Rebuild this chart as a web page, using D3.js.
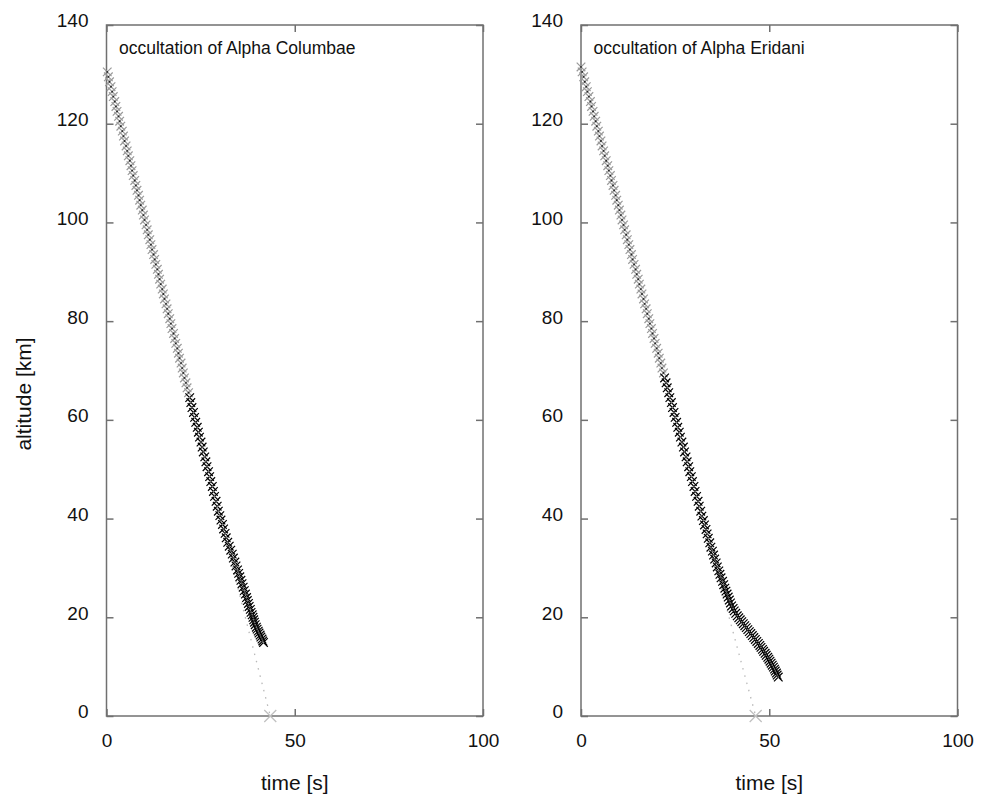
<!DOCTYPE html>
<html lang="en">
<head>
<meta charset="UTF-8" />
<title>Occultation altitude vs time</title>
<script src="https://d3js.org/d3.v7.min.js"></script>
<style>
    body { margin: 0; background: white; font-family: "Liberation Sans", Arial, sans-serif; }
    .frame { fill: none; stroke: #707070; stroke-width: 1.5px; }
    .axis path { display: none; }
    .axis line { stroke: #707070; stroke-width: 1.5px; }
    .axis text { font-family: "Liberation Sans", Arial, sans-serif; font-size: 19px; fill: #111; }
</style>
</head>
<body>
<div id="chart"></div>
<script>
// ticks
const xTicks = [0, 50, 100];
const yTicks = [0, 20, 40, 60, 80, 100, 120, 140];

// Alpha Columbae: points above the cut (gray) and below (black)
const columbaeGrayAlt = [130.5,129.5,128.5,127.5,126.5,125.5,124.5,123.5,122.5,121.5,120.5,119.5,118.5,117.5,116.5,115.5,114.5,113.5,112.5,111.5,110.5,109.5,108.5,107.5,106.5,105.5,104.5,103.5,102.5,101.5,100.5,99.5,98.5,97.5,96.5,95.5,94.5,93.5,92.5,91.5,90.5,89.5,88.5,87.5,86.5,85.5,84.5,83.5,82.5,81.5,80.5,79.5,78.5,77.5,76.5,75.5,74.5,73.5,72.5,71.5,70.5,69.5,68.5,67.5,66.5,65.5];
const columbaeGrayTime = [0.2,0.5,0.8,1.2,1.5,1.8,2.2,2.5,2.8,3.2,3.5,3.8,4.2,4.5,4.8,5.2,5.5,5.8,6.2,6.5,6.8,7.1,7.5,7.8,8.1,8.5,8.8,9.1,9.5,9.8,10.1,10.5,10.8,11.1,11.5,11.8,12.1,12.5,12.8,13.1,13.5,13.8,14.1,14.4,14.8,15.1,15.4,15.8,16.1,16.4,16.8,17.1,17.4,17.8,18.1,18.4,18.8,19.1,19.4,19.8,20.1,20.4,20.7,21.1,21.4,21.8];
const columbaeAlt = [64.5,63.5,62.5,61.5,60.5,59.5,58.5,57.5,56.5,55.5,54.5,53.5,52.5,51.5,50.5,49.5,48.5,47.5,46.5,45.5,44.5,43.5,42.5,41.5,40.6,39.7,38.8,37.9,37.0,36.1,35.2,34.4,33.6,32.8,32.0,31.2,30.4,29.6,28.9,28.2,27.5,26.8,26.1,25.4,24.7,24.0,23.4,22.8,22.2,21.6,21.0,20.5,20.0,19.5,19.0,18.5,18.0,17.6,17.2,16.8,16.4,16.0,15.6,15.2,14.9];
const columbaeTime = [22.1,22.4,22.7,23.1,23.4,23.7,24.1,24.4,24.7,25.1,25.4,25.7,26.1,26.4,26.7,27.1,27.4,27.7,28.1,28.4,28.7,29.1,29.4,29.7,30.1,30.4,30.8,31.1,31.5,31.8,32.2,32.6,33.0,33.4,33.7,34.1,34.4,34.8,35.1,35.4,35.7,36.0,36.3,36.6,36.9,37.2,37.4,37.7,37.9,38.2,38.4,38.7,38.9,39.1,39.3,39.5,39.8,40.0,40.3,40.5,40.8,41.0,41.3,41.5,41.7];

// Alpha Eridani
const eridaniGrayAlt = [131.5,130.5,129.5,128.5,127.5,126.5,125.5,124.5,123.5,122.5,121.5,120.5,119.5,118.5,117.5,116.5,115.5,114.5,113.5,112.5,111.5,110.5,109.5,108.5,107.5,106.5,105.5,104.5,103.5,102.5,101.5,100.5,99.5,98.5,97.5,96.5,95.5,94.5,93.5,92.5,91.5,90.5,89.5,88.5,87.5,86.5,85.5,84.5,83.5,82.5,81.5,80.5,79.5,78.5,77.5,76.5,75.5,74.5,73.5,72.5,71.5,70.5,69.5];
const eridaniGrayTime = [0.0,0.3,0.7,1.0,1.4,1.7,2.1,2.5,2.8,3.2,3.5,3.9,4.2,4.6,4.9,5.3,5.6,6.0,6.3,6.7,7.1,7.4,7.8,8.1,8.5,8.8,9.2,9.5,9.9,10.2,10.6,10.9,11.3,11.6,12.0,12.3,12.7,13.0,13.4,13.7,14.1,14.5,14.8,15.2,15.5,15.9,16.2,16.6,16.9,17.3,17.6,18.0,18.3,18.7,19.0,19.4,19.7,20.1,20.5,20.8,21.2,21.5,21.9];
const eridaniAlt = [68.5,67.5,66.5,65.5,64.5,63.5,62.5,61.5,60.5,59.5,58.5,57.5,56.5,55.5,54.5,53.5,52.5,51.5,50.5,49.5,48.5,47.5,46.5,45.5,44.5,43.5,42.5,41.5,40.5,39.6,38.7,37.8,36.9,36.0,35.1,34.2,33.4,32.6,31.8,31.0,30.2,29.4,28.7,28.0,27.3,26.6,25.9,25.3,24.7,24.1,23.5,22.9,22.3,21.8,21.3,20.8,20.3,19.9,19.5,19.1,18.7,18.3,17.9,17.5,17.1,16.7,16.3,15.9,15.5,15.1,14.7,14.3,13.9,13.5,13.1,12.7,12.3,11.9,11.5,11.1,10.7,10.3,9.9,9.5,9.1,8.7,8.3,7.9];
const eridaniTime = [22.2,22.6,22.9,23.3,23.6,24.0,24.3,24.7,25.0,25.4,25.7,26.1,26.4,26.8,27.2,27.5,27.9,28.2,28.6,28.9,29.3,29.6,30.0,30.3,30.7,31.1,31.4,31.8,32.1,32.5,32.8,33.2,33.5,33.8,34.2,34.5,34.9,35.2,35.5,35.9,36.2,36.6,36.9,37.2,37.6,37.9,38.2,38.5,38.8,39.1,39.4,39.7,40.0,40.4,40.7,41.1,41.5,41.9,42.3,42.7,43.1,43.5,43.9,44.3,44.7,45.1,45.5,45.9,46.3,46.7,47.1,47.5,47.8,48.2,48.5,48.9,49.2,49.6,49.9,50.2,50.5,50.8,51.1,51.4,51.6,51.9,52.1,52.4];

// time where the straight (unrefracted) track reaches 0 km
const groundTime = [43.5, 46.4];

const W = 982, H = 795;
const plotW = 376.5, plotH = 691;

const svg = d3.select("#chart").append("svg")
    .attr("width", W)
    .attr("height", H);

const zip = (t, a) => t.map((d, i) => ({ t: d, a: a[i] }));

const panels = [
    { left: 106.5, title: "occultation of Alpha Columbae",
      gray: zip(columbaeGrayTime, columbaeGrayAlt), black: zip(columbaeTime, columbaeAlt), ground: groundTime[0], ylabel: true },
    { left: 581, title: "occultation of Alpha Eridani",
      gray: zip(eridaniGrayTime, eridaniGrayAlt), black: zip(eridaniTime, eridaniAlt), ground: groundTime[1], ylabel: false }
];

const cross = s => `M${-s},${-s}L${s},${s}M${-s},${s}L${s},${-s}`;

panels.forEach(p => {
    const g = svg.append("g").attr("transform", `translate(${p.left},25)`);

    const x = d3.scaleLinear().domain([0, 100]).range([0, plotW]);
    const y = d3.scaleLinear().domain([0, 140]).range([plotH, 0]);

    // axes with inward ticks on all four sides
    const bottom = g.append("g").attr("class", "axis")
        .attr("transform", `translate(0,${plotH})`)
        .call(d3.axisBottom(x).tickValues(xTicks).tickSize(-7).tickPadding(0));
    bottom.selectAll("text").attr("y", 30.5).attr("dy", 0);

    g.append("g").attr("class", "axis")
        .call(d3.axisTop(x).tickValues(xTicks).tickSize(-7).tickFormat(""));

    const leftAx = g.append("g").attr("class", "axis")
        .call(d3.axisLeft(y).tickValues(yTicks).tickSize(-7).tickPadding(18));
    leftAx.selectAll("text").attr("dy", "0.1em");

    g.append("g").attr("class", "axis")
        .attr("transform", `translate(${plotW},0)`)
        .call(d3.axisRight(y).tickValues(yTicks).tickSize(-7).tickFormat(""));

    g.append("rect").attr("class", "frame")
        .attr("width", plotW).attr("height", plotH);

    // straight track, dotted
    const start = p.gray[0];
    g.append("line")
        .attr("x1", x(start.t)).attr("y1", y(start.a))
        .attr("x2", x(p.ground)).attr("y2", y(0))
        .attr("stroke", "#b8b8b8")
        .attr("stroke-width", 1.3)
        .attr("stroke-dasharray", "1.5,6");

    g.append("path")
        .attr("d", cross(6))
        .attr("transform", `translate(${x(p.ground)},${y(0)})`)
        .attr("stroke", "#c0c0c0")
        .attr("stroke-width", 1.3)
        .attr("fill", "none");

    // gray points
    g.selectAll(".gp").data(p.gray).enter().append("path")
        .attr("class", "gp")
        .attr("d", cross(4.3))
        .attr("transform", d => `translate(${x(d.t)},${y(d.a)})`)
        .attr("stroke", "#9a9a9a")
        .attr("stroke-width", 1.2)
        .attr("fill", "none");

    g.selectAll(".gd").data(p.gray).enter().append("circle")
        .attr("class", "gd")
        .attr("cx", d => x(d.t)).attr("cy", d => y(d.a))
        .attr("r", 0.9)
        .attr("fill", "#222");

    // black points
    g.selectAll(".bp").data(p.black).enter().append("path")
        .attr("class", "bp")
        .attr("d", cross(4.3))
        .attr("transform", d => `translate(${x(d.t)},${y(d.a)})`)
        .attr("stroke", "#000")
        .attr("stroke-width", 1.2)
        .attr("fill", "none");

    g.selectAll(".bd").data(p.black).enter().append("circle")
        .attr("class", "bd")
        .attr("cx", d => x(d.t)).attr("cy", d => y(d.a))
        .attr("r", 0.8)
        .attr("fill", "#888");

    g.append("text")
        .attr("x", 12.5).attr("y", 29)
        .attr("font-size", "17.5px")
        .attr("fill", "#111")
        .text(p.title);

    g.append("text")
        .attr("x", plotW / 2).attr("y", 765)
        .attr("text-anchor", "middle")
        .attr("font-size", "21px")
        .attr("fill", "#111")
        .text("time [s]");

    if (p.ylabel) {
        g.append("text")
            .attr("transform", `translate(-76,369) rotate(-90)`)
            .attr("text-anchor", "middle")
            .attr("font-size", "21px")
            .attr("fill", "#111")
            .text("altitude [km]");
    }
});
</script>
</body>
</html>
